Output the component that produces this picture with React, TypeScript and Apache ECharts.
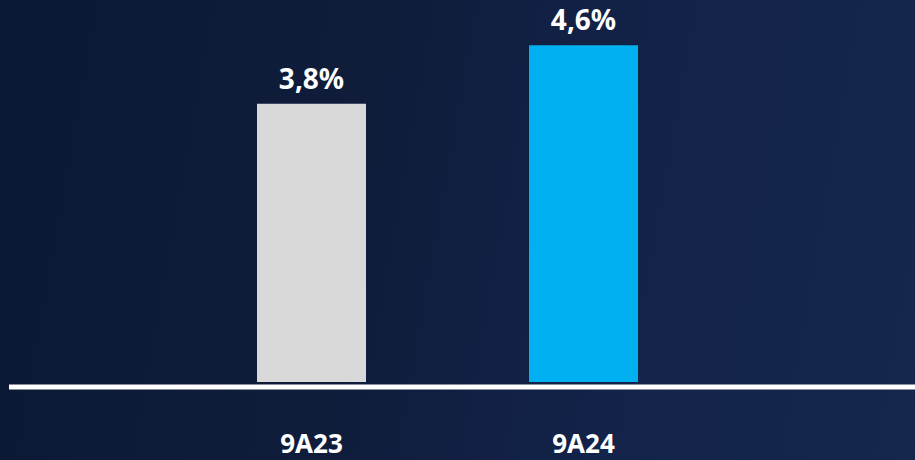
import React, { useEffect, useRef } from "react";
import * as echarts from "echarts";

const categories = ["9A23", "9A24"];
const values = [3.8, 4.6];
const barColors = ["#d9d9d9", "#00b0f0"];
const valueLabels = ["3,8%", "4,6%"];

export default function App() {
  const ref = useRef<HTMLDivElement>(null);
  useEffect(() => {
    document.body.style.margin = "0";
    const chart = echarts.init(ref.current!, null, { renderer: "svg" });
    chart.setOption({
      animation: false,
      backgroundColor: "transparent",
      grid: { left: 175.5, right: 195.5, top: 16, bottom: 78 },
      xAxis: {
        type: "category",
        data: categories,
        axisLine: { show: false },
        axisTick: { show: false },
        axisLabel: {
          color: "#ffffff",
          fontFamily: "Noto Sans",
          fontWeight: "bold",
          fontSize: 26,
          margin: 48,
        },
      },
      yAxis: {
        type: "value",
        min: 0,
        max: 5,
        show: false,
        splitLine: { show: false },
      },
      series: [
        {
          type: "bar",
          barWidth: 109,
          data: values.map((v, i) => ({
            value: v,
            itemStyle: { color: barColors[i] },
            label: { formatter: valueLabels[i] },
          })),
          label: {
            show: true,
            position: "top",
            distance: 12,
            color: "#ffffff",
            fontFamily: "Noto Sans",
            fontWeight: "bold",
            fontSize: 28,
          },
        },
      ],
      graphic: [
        {
          type: "line",
          shape: { x1: 9, y1: 387, x2: 915, y2: 387 },
          style: { stroke: "#ffffff", lineWidth: 5 },
          z: 10,
        },
      ],
    });
    return () => chart.dispose();
  }, []);
  return (
    <div
      style={{
        position: "absolute",
        left: 0,
        top: 0,
        width: 915,
        height: 460,
        background:
          "linear-gradient(100deg, #0c1935 0%, #0f1d3b 40%, #13234a 70%, #15274d 100%)",
      }}
    >
      <div ref={ref} style={{ width: 915, height: 460 }} />
    </div>
  );
}
